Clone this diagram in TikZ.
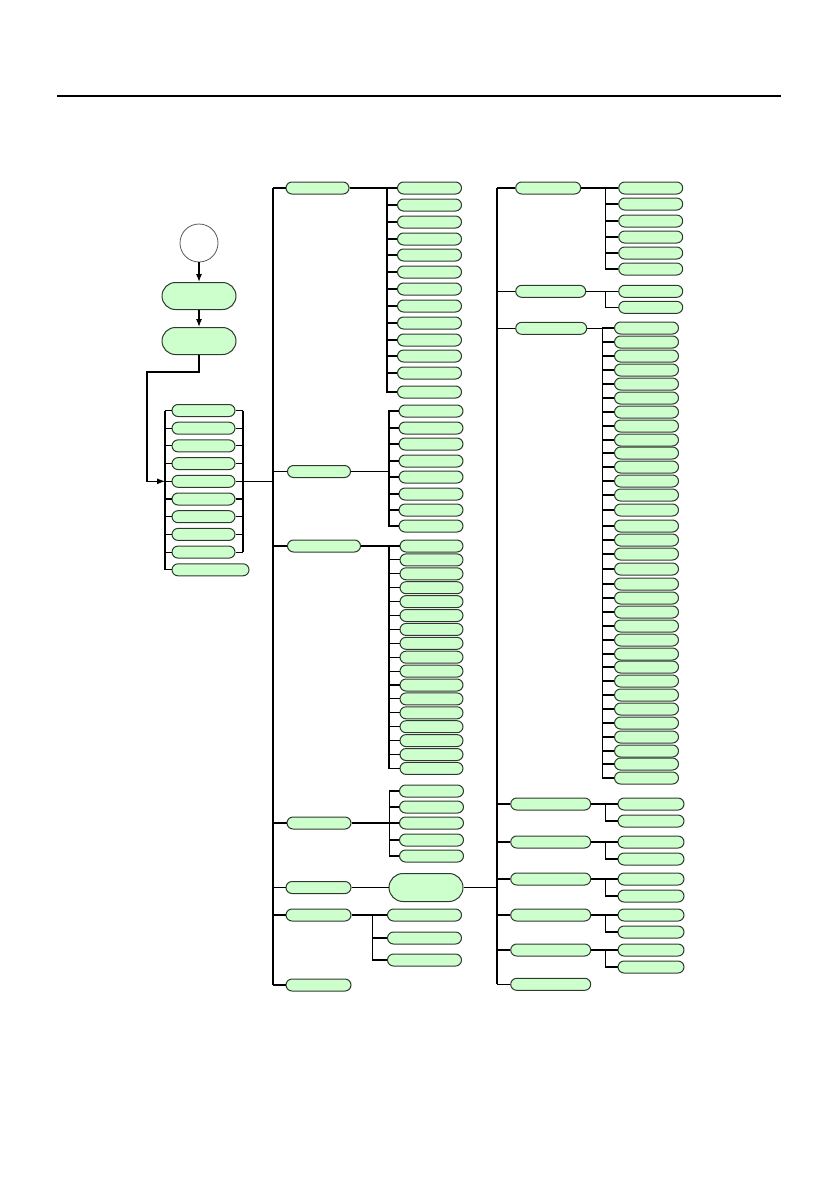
\documentclass[tikz,border=0pt]{standalone}
\usepackage{tikz}
\usetikzlibrary{positioning,arrows.meta,calc}
\definecolor{pillfill}{HTML}{CCFFCC}
\definecolor{pilledge}{HTML}{2F3A2F}

\begin{document}
\begin{tikzpicture}[
  x=1pt, y=-1pt,
  pill/.style  = {draw=pilledge, fill=pillfill, line width=1pt, rounded corners=6pt,
                  minimum height=12pt, inner sep=0pt},
  leaf/.style  = {pill, minimum width=64pt},
  big/.style   = {pill, minimum width=74pt, minimum height=27pt, rounded corners=13.5pt},
  start/.style = {circle, draw=black!65, fill=white, minimum size=38pt,
                  inner sep=0pt, line width=0.8pt},
  ln/.style    = {line width=1.1pt},
  fl/.style    = {ln, -{Latex[length=8pt,width=6pt]}},
]
\useasboundingbox (0,0) rectangle (839,1191);

% header rule
\draw[line width=1.2pt] (57,96) -- (781,96);

% ---------------- start and entry ---------------------------------------
\node[start] (st) at (199,243) {};
\node[big]   (b1) at (199,296) {};
\node[big]   (b2) at (199,341) {};
\draw[fl] (st) -- (b1);
\draw[fl] (b1) -- (b2);

% ---------------- left list ----------------------------------------------
\foreach \i in {1,...,9}
  \node[pill, minimum width=63pt] (l\i) at (203.5,{410.5+17.7*(\i-1)}) {};
\node[pill, minimum width=77pt] (l10) at (210.5,569.8) {};

\coordinate (lbus) at (165,0);
\coordinate (rbus) at (243,0);
\foreach \i in {1,...,10} \draw[ln] (l\i.west) -- (l\i.west -| lbus);
\draw[ln] (l1.west -| lbus) -- (l10.west -| lbus);
\foreach \i in {1,...,9} \draw[ln] (l\i.east) -- (l\i.east -| rbus);
\draw[ln] (l1.east -| rbus) -- (l9.east -| rbus);

\coordinate (turn) at (147,372);
\draw[fl] (b2.south) |- (turn) |- (l5.west -| lbus);

% ---------------- middle trunk -------------------------------------------
\coordinate (trunk) at (273,0);
\node[pill, minimum width=63pt] (a1) at (317.5,188)   {};
\node[pill, minimum width=63pt] (a2) at (319,471.5)   {};
\node[pill, minimum width=73pt] (a3) at (324,546)     {};
\node[pill, minimum width=64pt] (a4) at (319,823)     {};
\node[pill, minimum width=65pt] (a5) at (318.5,887.5) {};
\node[pill, minimum width=65pt] (a6) at (318.5,915)   {};
\node[pill, minimum width=65pt] (a7) at (318.5,985)   {};

\draw[ln] (l5.east) -- (l5.east -| trunk);
\foreach \i in {1,...,7} \draw[ln] (a\i.west) -- (a\i.west -| trunk);
\draw[ln] (a1.west -| trunk) -- (a7.west -| trunk);

% a1 children
\foreach \y [count=\i] in {188,205,222,239,255,272,289,306,323,340,356,373,392}
  \node[leaf] (a1-\i) at (429.5,\y) {};
\foreach \i in {1,...,13} \draw[ln] (a1.east) -- ++(37.5,0) |- (a1-\i.west);

% a2 children
\foreach \y [count=\i] in {411,428,444,461,477,494,510,526}
  \node[leaf] (a2-\i) at (431,\y) {};
\foreach \i in {1,...,8} \draw[ln] (a2.east) -- ++(38,0) |- (a2-\i.west);

% a3 children
\foreach \i in {1,...,17}
  \node[leaf, minimum width=63pt] (a3-\i) at (431.5,{546+13.9*(\i-1)}) {};
\foreach \i in {1,...,17} \draw[ln] (a3.east) -- ++(28,0) |- (a3-\i.west);

% a4 children
\foreach \y [count=\i] in {791,807,823,840,856}
  \node[leaf] (a4-\i) at (431.5,\y) {};
\foreach \i in {1,...,5} \draw[ln] (a4.east) -- ++(38,0) |- (a4-\i.west);

% a5 -> hub
\node[big, minimum height=28pt, rounded corners=14pt] (bx) at (426,887.5) {};
\draw[ln] (a5) -- (bx);

% a6 children
\foreach \y [count=\i] in {915,938,960}
  \node[leaf, minimum width=74pt] (a6-\i) at (424.5,\y) {};
\foreach \i in {1,...,3} \draw[ln] (a6.east) -- ++(21,0) |- (a6-\i.west);

% ---------------- right trunk --------------------------------------------
\coordinate (rtrunk) at (497,0);
\draw[ln] (bx.east) -- (bx.east -| rtrunk);

\node[pill, minimum width=65pt] (c1) at (548.2,188)   {};
\node[pill, minimum width=70pt] (c2) at (550.7,291.3) {};
\node[pill, minimum width=71pt] (c3) at (551.2,328.3) {};
\foreach \k/\ya/\yb in {4/804/821, 5/842/859, 6/879/896, 7/915/932, 8/950/967} {
  \node[pill, minimum width=80pt] (c\k) at (550.7,\ya) {};
  \node[leaf, minimum width=66pt] (c\k-1) at (651,\ya) {};
  \node[leaf, minimum width=66pt] (c\k-2) at (651,\yb) {};
  \draw[ln] (c\k.east) -- ++(14.3,0) |- (c\k-1.west);
  \draw[ln] (c\k.east) -- ++(14.3,0) |- (c\k-2.west);
}
\node[pill, minimum width=80pt] (c9) at (550.7,984.3) {};

\foreach \i in {1,...,9} \draw[ln] (c\i.west) -- (c\i.west -| rtrunk);
\draw[ln] (c1.west -| rtrunk) -- (c9.west -| rtrunk);

% c1 children
\foreach \y [count=\i] in {188,204,221,237,253,269}
  \node[leaf] (c1-\i) at (650.7,\y) {};
\foreach \i in {1,...,6} \draw[ln] (c1.east) -- ++(24.3,0) |- (c1-\i.west);

% c2 children
\foreach \y [count=\i] in {291.3,307.3}
  \node[leaf] (c2-\i) at (650.7,\y) {};
\foreach \i in {1,2} \draw[ln] (c2.east) -- ++(19.3,0) |- (c2-\i.west);

% c3 children
\foreach \y [count=\i] in {328,342,356,370,384,398,412,426,440,453,467,481,495,510,
                          526,540,554,569,584,598,612,626,640,654,667,681,695,709,
                          723,737,751,764,778}
  \node[leaf] (c3-\i) at (646.5,\y) {};
\foreach \i in {1,...,33} \draw[ln] (c3.east) -- ++(15,0) |- (c3-\i.west);

\end{tikzpicture}
\end{document}
